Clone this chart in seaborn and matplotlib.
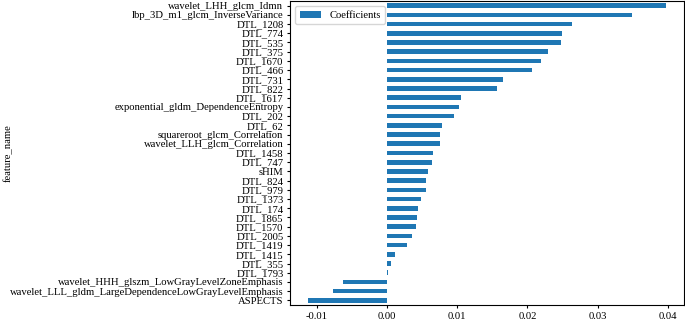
import matplotlib
matplotlib.use('Agg')
import matplotlib.pyplot as plt
import pandas as pd
import seaborn as sns

# Nombres de variables (de arriba a abajo)
features = ['wavelet_LHH_glcm_Idmn', 'lbp_3D_m1_glcm_InverseVariance', 'DTL_1208', 'DTL_774',
            'DTL_535', 'DTL_375', 'DTL_1670', 'DTL_466', 'DTL_731', 'DTL_822', 'DTL_1617',
            'exponential_gldm_DependenceEntropy', 'DTL_202', 'DTL_62', 'squareroot_glcm_Correlation',
            'wavelet_LLH_glcm_Correlation', 'DTL_1458', 'DTL_747', 'sHIM', 'DTL_824', 'DTL_979',
            'DTL_1373', 'DTL_174', 'DTL_1865', 'DTL_1570', 'DTL_2005', 'DTL_1419', 'DTL_1415',
            'DTL_355', 'DTL_1793', 'wavelet_HHH_glszm_LowGrayLevelZoneEmphasis',
            'wavelet_LLL_gldm_LargeDependenceLowGrayLevelEmphasis', 'ASPECTS']

# Coeficientes
coefs = [0.0398, 0.0349, 0.0263, 0.0250, 0.0248, 0.0230, 0.0220, 0.0207, 0.0165, 0.0157,
         0.0106, 0.0102, 0.0096, 0.0079, 0.0076, 0.0075, 0.0065, 0.0064, 0.0058, 0.0056,
         0.0055, 0.0048, 0.0044, 0.0043, 0.0042, 0.0035, 0.0029, 0.0012, 0.0006, 0.0002,
         -0.0063, -0.0077, -0.0112]

xticks = [-0.01, 0.00, 0.01, 0.02, 0.03, 0.04]

df = pd.DataFrame({'feature_name': features, 'Coefficients': coefs})

plt.rcParams['font.family'] = ['Liberation Serif', 'DejaVu Serif']
plt.rcParams['font.size'] = 7.65
plt.rcParams['axes.unicode_minus'] = False
plt.rcParams['xtick.major.size'] = 2.5
plt.rcParams['ytick.major.size'] = 2.5
plt.rcParams['xtick.major.pad'] = 2.2
plt.rcParams['ytick.major.pad'] = 2.2

fig, ax = plt.subplots(figsize=(6.85, 3.2), dpi=100)
sns.barplot(data=df, x='Coefficients', y='feature_name', orient='h',
            color='#1f77b4', saturation=1, width=0.5, label='Coefficients', ax=ax)
ax.set_xlim(-0.0138, 0.0423)
ax.set_xticks(xticks)
ax.set_xticklabels(['%.2f' % t for t in xticks])
ax.set_xlabel('')
ax.set_ylabel('feature_name')
ax.yaxis.set_label_coords(-0.704, 0.5)
ax.legend(loc='upper left')
fig.subplots_adjust(left=290/685, right=684/685, top=1-1/320, bottom=1-305/320)
fig.savefig('out.png', dpi=100)
